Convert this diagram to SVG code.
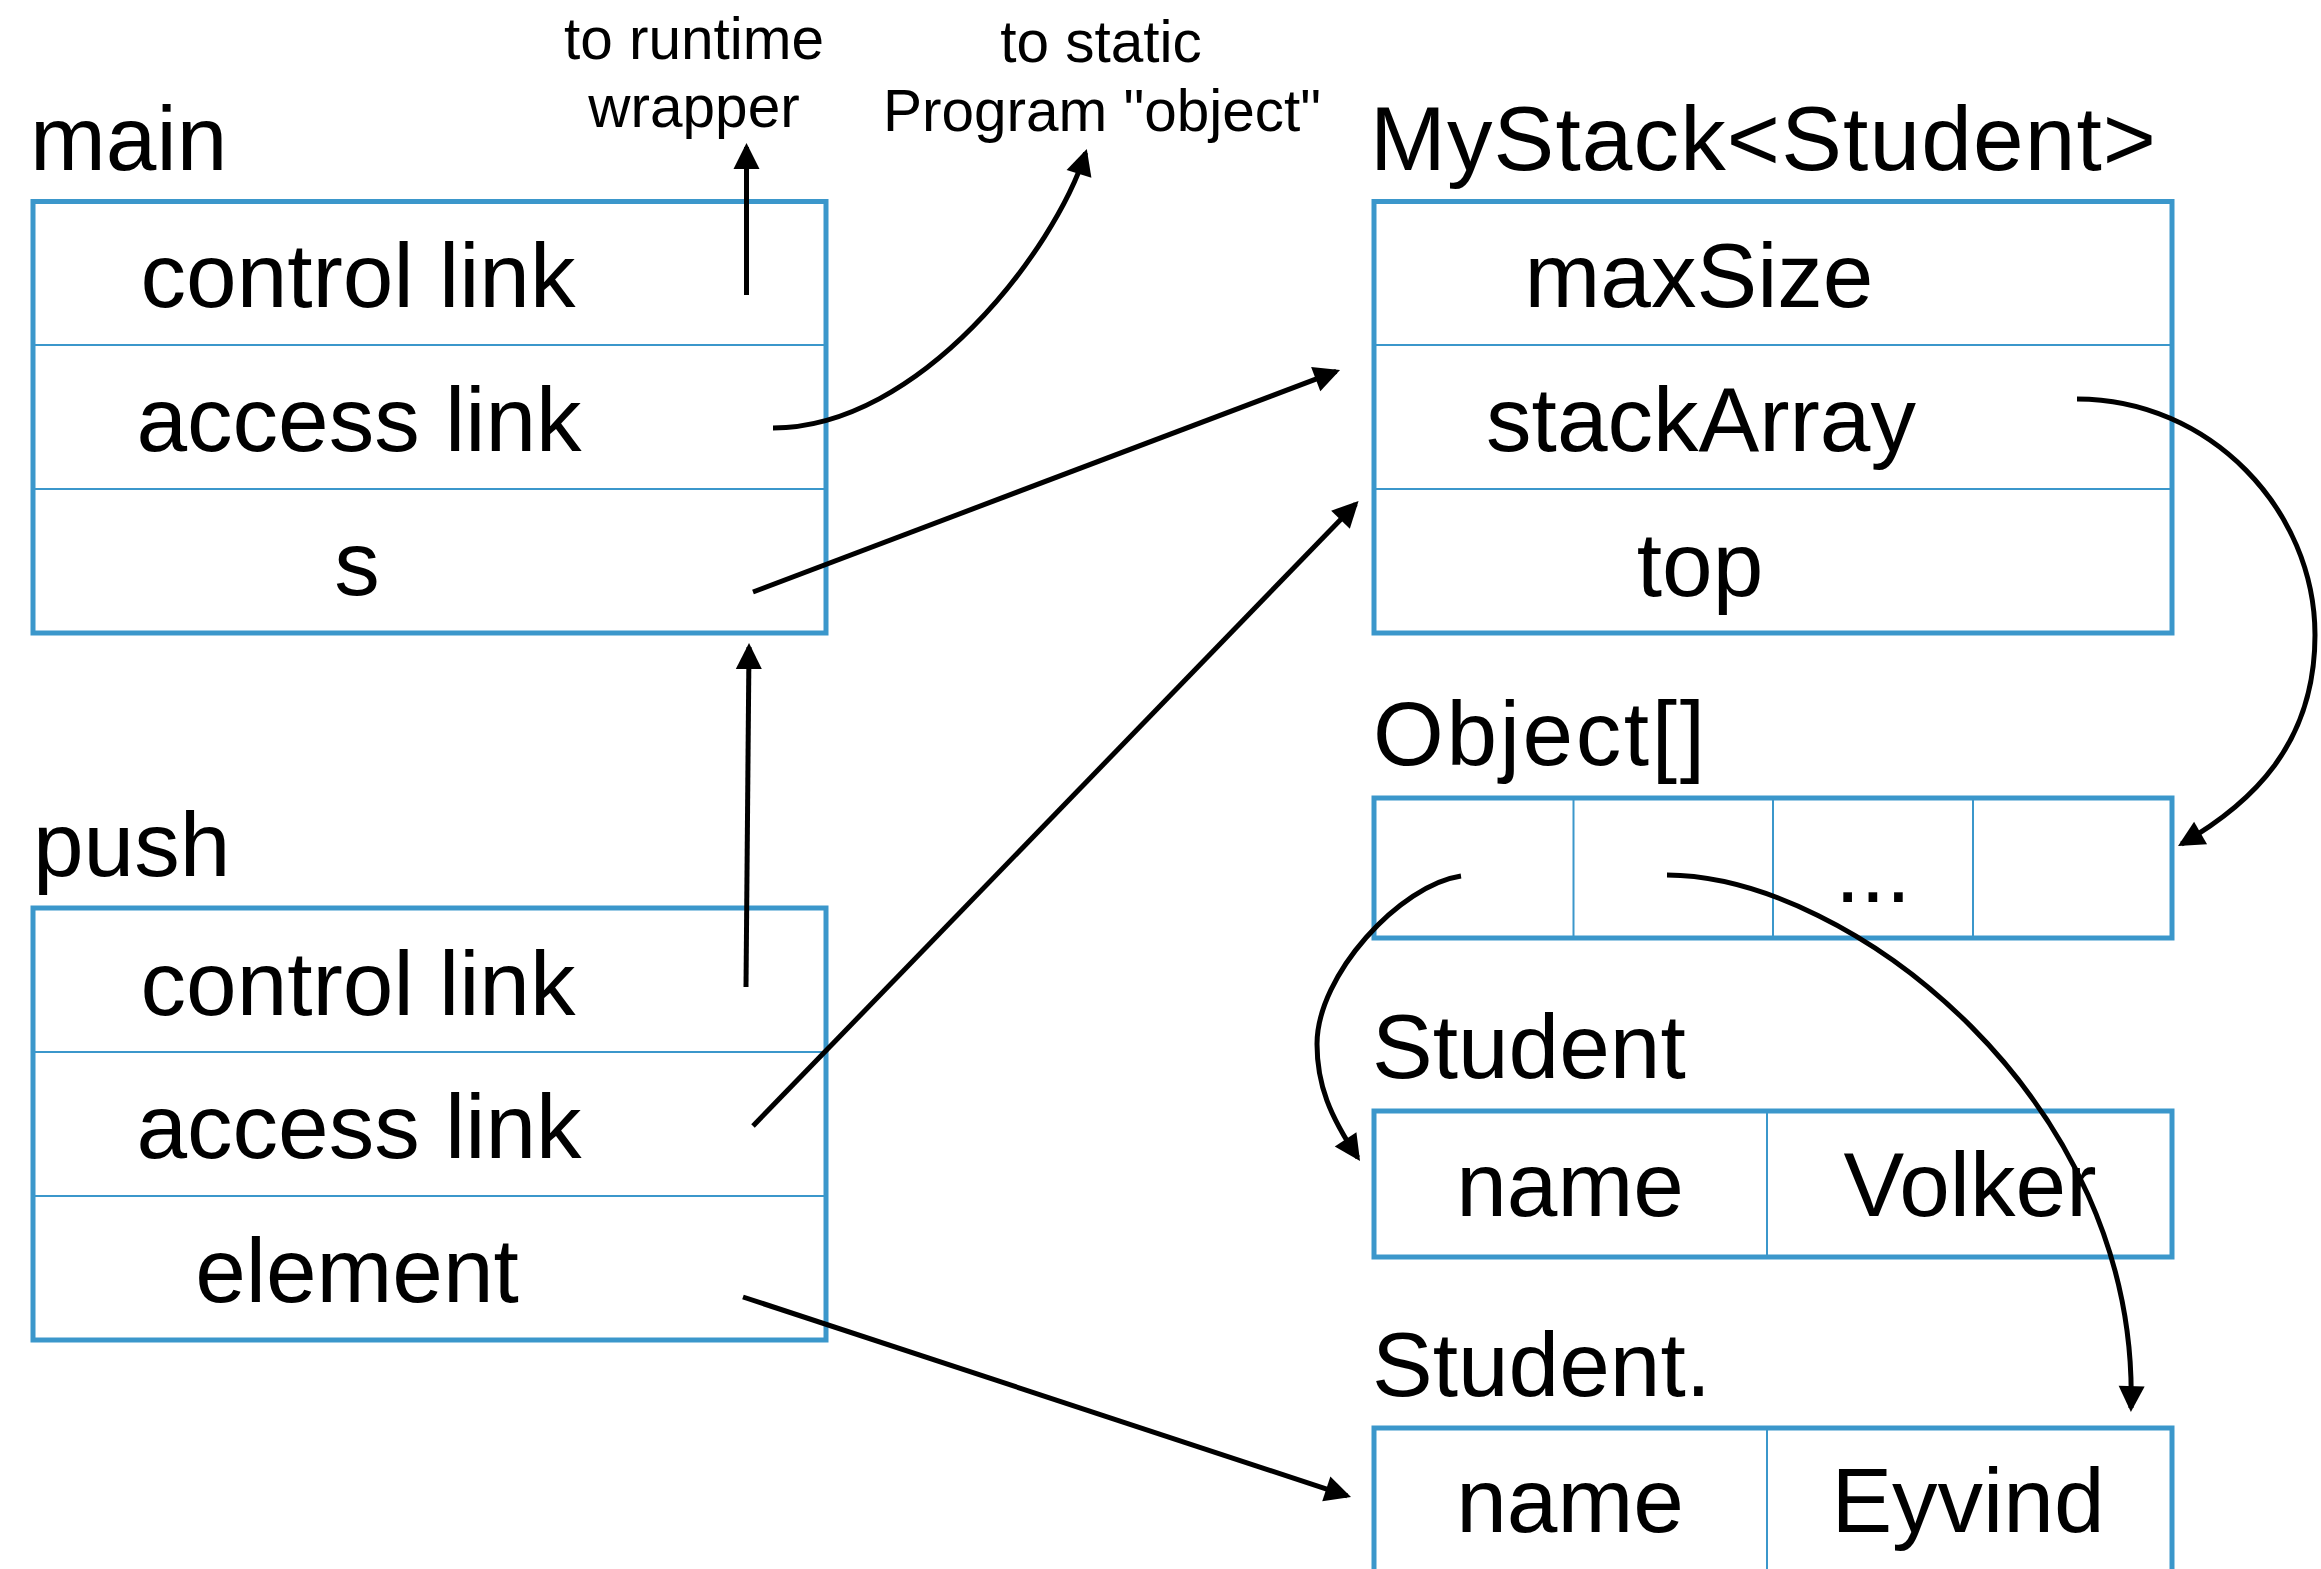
<svg xmlns="http://www.w3.org/2000/svg" width="2321" height="1569" viewBox="0 0 2321 1569">
<style>
text{font-family:"Liberation Sans",Arial,sans-serif;fill:#000}
.big{font-size:91px}
.lbl{font-size:91px}
.small{font-size:58.5px;text-anchor:middle}
.c{text-anchor:middle}
.box{fill:none;stroke:#3b97cb;stroke-width:5}
.div{fill:none;stroke:#3b97cb;stroke-width:2}
.con{fill:none;stroke:#000;stroke-width:5;marker-end:url(#ah)}
</style>
<defs>
<marker id="ah" markerUnits="userSpaceOnUse" markerWidth="30" markerHeight="30" refX="22" refY="13" orient="auto" overflow="visible">
<path d="M0,0 L26,13 L0,26 z" fill="#000"/>
</marker>
</defs>
<rect width="2321" height="1569" fill="#fff"/>

<g id="labels-top">
<text class="small" x="694" y="59">to runtime</text>
<text class="small" x="694" y="127">wrapper</text>
<text class="small" x="1101" y="62">to static</text>
<text class="small" x="1102" y="131">Program "object"</text>
</g>

<g id="main">
<text class="lbl" x="30" y="170">main</text>
<rect class="box" x="33" y="201.5" width="793" height="431.5"/>
<line class="div" x1="33" y1="345" x2="826" y2="345"/>
<line class="div" x1="33" y1="489" x2="826" y2="489"/>
<text class="big c" x="358" y="307">control link</text>
<text class="big c" x="359" y="451">access link</text>
<text class="big c" x="357" y="595">s</text>
</g>

<g id="push">
<text class="lbl" x="33" y="876">push</text>
<rect class="box" x="33" y="908" width="793" height="432"/>
<line class="div" x1="33" y1="1052" x2="826" y2="1052"/>
<line class="div" x1="33" y1="1196" x2="826" y2="1196"/>
<text class="big c" x="358" y="1015">control link</text>
<text class="big c" x="359" y="1158">access link</text>
<text class="big c" x="357" y="1302">element</text>
</g>

<g id="mystack">
<text class="lbl" x="1370" y="170" textLength="786" lengthAdjust="spacing">MyStack&lt;Student&gt;</text>
<rect class="box" x="1374" y="201.5" width="798" height="431.5"/>
<line class="div" x1="1374" y1="345" x2="2172" y2="345"/>
<line class="div" x1="1374" y1="489" x2="2172" y2="489"/>
<text class="big c" x="1699" y="307">maxSize</text>
<text class="big c" x="1701" y="451">stackArray</text>
<text class="big c" x="1700" y="596">top</text>
</g>

<g id="objectarray">
<text class="lbl" x="1373" y="765" textLength="332" lengthAdjust="spacing">Object[]</text>
<rect class="box" x="1374" y="798" width="798" height="140"/>
<line class="div" x1="1573.5" y1="798" x2="1573.5" y2="938"/>
<line class="div" x1="1773" y1="798" x2="1773" y2="938"/>
<line class="div" x1="1973" y1="798" x2="1973" y2="938"/>
<text class="big c" x="1873" y="902">...</text>
</g>

<g id="student1">
<text class="lbl" x="1372" y="1078">Student</text>
<rect class="box" x="1374" y="1111" width="798" height="146"/>
<line class="div" x1="1767" y1="1111" x2="1767" y2="1257"/>
<text class="big c" x="1570" y="1216">name</text>
<text class="big c" x="1970" y="1216">Volker</text>
</g>

<g id="student2">
<text class="lbl" x="1372" y="1396">Student.</text>
<rect class="box" x="1374" y="1428" width="798" height="200"/>
<line class="div" x1="1767" y1="1428" x2="1767" y2="1628"/>
<text class="big c" x="1570" y="1532">name</text>
<text class="big c" x="1968" y="1532">Eyvind</text>
</g>

<g id="connectors">
<path class="con" d="M746.5,295 L746.5,147"/>
<path class="con" d="M773,428 C920,428 1055,250 1085.6,152.8"/>
<path class="con" d="M753,592 L1336.3,371.4"/>
<path class="con" d="M746,987 L749,647"/>
<path class="con" d="M753,1126 L1355.8,503.9"/>
<path class="con" d="M743,1297 L1347.2,1495.8"/>
<path class="con" d="M2077,399 C2210,399 2315,510 2315,635 C2315,745 2251,804 2181.5,844"/>
<path class="con" d="M1461,876 C1400,885 1317,975 1317,1044 C1317,1085 1330,1116 1357.8,1157.7"/>
<path class="con" d="M1667,875 C1850,876 2140,1100 2131,1408"/>
</g>
</svg>
